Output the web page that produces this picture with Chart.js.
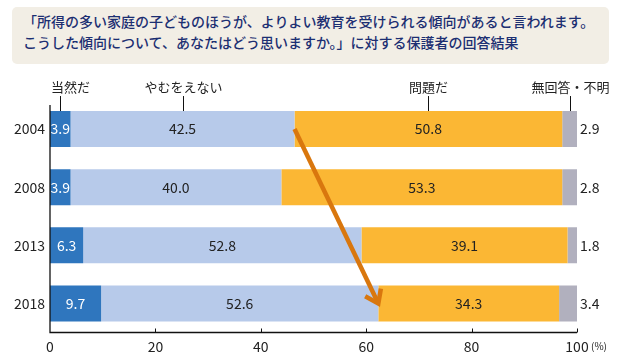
<!DOCTYPE html>
<html><head><meta charset="utf-8">
<script src="https://cdn.jsdelivr.net/npm/chart.js@4"></script>
<style>
html,body{margin:0;padding:0;background:#fff;}
#wrap{position:relative;width:620px;height:363px;overflow:hidden;}
#c{position:absolute;left:0;top:0;}
#title{position:absolute;left:12px;top:7px;width:597px;height:57px;background:#f2eee5;border-radius:5px;box-sizing:border-box;padding:4px 0 0 11px;font-family:"Noto Sans CJK JP","Noto Sans",sans-serif;font-size:14px;font-weight:500;line-height:21px;color:#1c2f72;white-space:nowrap;z-index:2;}
</style></head>
<body>
<div id="wrap">
<div id="title">「所得の多い家庭の子どものほうが、よりよい教育を受けられる傾向があると言われます。<br>こうした傾向について、あなたはどう思いますか。」に対する保護者の回答結果</div>
<canvas id="c" width="620" height="363"></canvas>
</div>
<script>
const categories = ['2004', '2008', '2013', '2018'];
const seriesNames = ['当然だ', 'やむをえない', '問題だ', '無回答・不明'];
const touzen = [3.9, 3.9, 6.3, 9.7];
const yamuwoenai = [42.5, 40.0, 52.8, 52.6];
const mondai = [50.8, 53.3, 39.1, 34.3];
const mukaitou = [2.9, 2.8, 1.8, 3.4];
const xTicks = [0, 20, 40, 60, 80, 100];
const unitLabel = '(%)';

const colors = ['#2f76be', '#b7caea', '#fbb734', '#b1b0be'];
const FONT = '"Noto Sans CJK JP","Noto Sans",sans-serif';
Chart.defaults.font.family = FONT;
Chart.defaults.font.size = 14;
Chart.defaults.color = '#222';

const overlay = {
  id: 'overlay',
  afterDatasetsDraw(chart) {
    const ctx = chart.ctx;
    const xs = chart.scales.x, ys = chart.scales.y;
    const ca = chart.chartArea;
    ctx.save();
    // value labels
    chart.data.datasets.forEach((ds, di) => {
      const meta = chart.getDatasetMeta(di);
      meta.data.forEach((bar, i) => {
        const txt = ds.data[i].toFixed(1);
        ctx.font = '14px ' + FONT;
        ctx.textBaseline = 'middle';
        if (di === 3) {
          ctx.textAlign = 'left';
          ctx.fillStyle = '#222';
          ctx.fillText(txt, ca.right + 3, bar.y);
        } else {
          ctx.textAlign = 'center';
          ctx.fillStyle = di === 0 ? '#fff' : '#222';
          ctx.fillText(txt, (bar.x + bar.base) / 2, bar.y);
        }
      });
    });
    // series labels with leader lines
    chart.data.datasets.forEach((ds, di) => {
      const bar = chart.getDatasetMeta(di).data[0];
      const lx = Math.round((bar.x + bar.base) / 2) + 0.5;
      const top = bar.y - bar.height / 2;
      ctx.strokeStyle = '#111';
      ctx.lineWidth = 1;
      ctx.beginPath();
      ctx.moveTo(lx, top - 15);
      ctx.lineTo(lx, top);
      ctx.stroke();
      ctx.font = '13px ' + FONT;
      ctx.fillStyle = '#222';
      ctx.textBaseline = 'middle';
      if (di === 0) {
        ctx.textAlign = 'left';
        ctx.fillText(ds.label, ca.left + 1, top - 24);
      } else {
        ctx.textAlign = 'center';
        ctx.fillText(ds.label, lx, top - 24);
      }
    });
    // arrow
    const x1 = xs.getPixelForValue(touzen[0] + yamuwoenai[0]);
    const y1 = ys.getPixelForValue(0);
    const x2 = xs.getPixelForValue(touzen[3] + yamuwoenai[3]);
    const y2 = ys.getPixelForValue(3);
    const ang = Math.atan2(y2 - y1, x2 - x1);
    ctx.strokeStyle = '#d9770e';
    ctx.lineWidth = 4.5;
    ctx.lineCap = 'butt';
    ctx.lineJoin = 'miter';
    ctx.beginPath();
    ctx.moveTo(x1, y1);
    ctx.lineTo(x2 - 3 * Math.cos(ang), y2 - 3 * Math.sin(ang));
    ctx.stroke();
    const L = 15, spread = 0.62;
    ctx.beginPath();
    ctx.moveTo(x2 - L * Math.cos(ang - spread), y2 - L * Math.sin(ang - spread));
    ctx.lineTo(x2, y2);
    ctx.lineTo(x2 - L * Math.cos(ang + spread), y2 - L * Math.sin(ang + spread));
    ctx.stroke();
    ctx.restore();
  },
  afterDraw(chart) {
    const ctx = chart.ctx;
    const xs = chart.scales.x;
    const ca = chart.chartArea;
    ctx.save();
    ctx.strokeStyle = '#111';
    ctx.lineWidth = 1.3;
    ctx.beginPath();
    ctx.moveTo(ca.left, ca.top + 5);
    ctx.lineTo(ca.left, ca.bottom);
    ctx.lineTo(ca.right, ca.bottom);
    ctx.stroke();
    ctx.lineWidth = 1;
    xTicks.forEach(v => {
      if (v === 0) return;
      const px = Math.round(xs.getPixelForValue(v)) + 0.5;
      ctx.beginPath();
      ctx.moveTo(px, ca.bottom - 4);
      ctx.lineTo(px, ca.bottom);
      ctx.stroke();
    });
    ctx.font = '10px ' + FONT;
    ctx.fillStyle = '#222';
    ctx.textAlign = 'left';
    ctx.textBaseline = 'middle';
    ctx.fillText(unitLabel, ca.right + 14, ca.bottom + 13.5);
    ctx.restore();
  }
};

const valueSets = [touzen, yamuwoenai, mondai, mukaitou];
new Chart(document.getElementById('c'), {
  type: 'bar',
  data: {
    labels: categories,
    datasets: valueSets.map((d, i) => ({
      label: seriesNames[i],
      data: d,
      backgroundColor: colors[i],
      borderWidth: 0,
      barPercentage: 0.62,
      categoryPercentage: 1
    }))
  },
  options: {
    indexAxis: 'y',
    responsive: false,
    animation: false,
    layout: { padding: { top: 100, right: 43, left: 0, bottom: 0 } },
    plugins: { legend: { display: false }, title: { display: false }, tooltip: { enabled: false } },
    scales: {
      x: {
        stacked: true, min: 0, max: 100,
        grid: { display: false, drawTicks: false },
        border: { display: false },
        afterBuildTicks(s) { s.ticks = xTicks.map(v => ({ value: v })); },
        ticks: { padding: 6, color: '#222', font: { size: 14 } },
        afterFit(s) { s.height = 30.5; }
      },
      y: {
        stacked: true, offset: true,
        grid: { display: false, drawTicks: false },
        border: { display: false },
        ticks: { padding: 5, color: '#222', font: { size: 14 } },
        afterFit(s) { s.width = 50; }
      }
    }
  },
  plugins: [overlay]
});
</script>
</body></html>
